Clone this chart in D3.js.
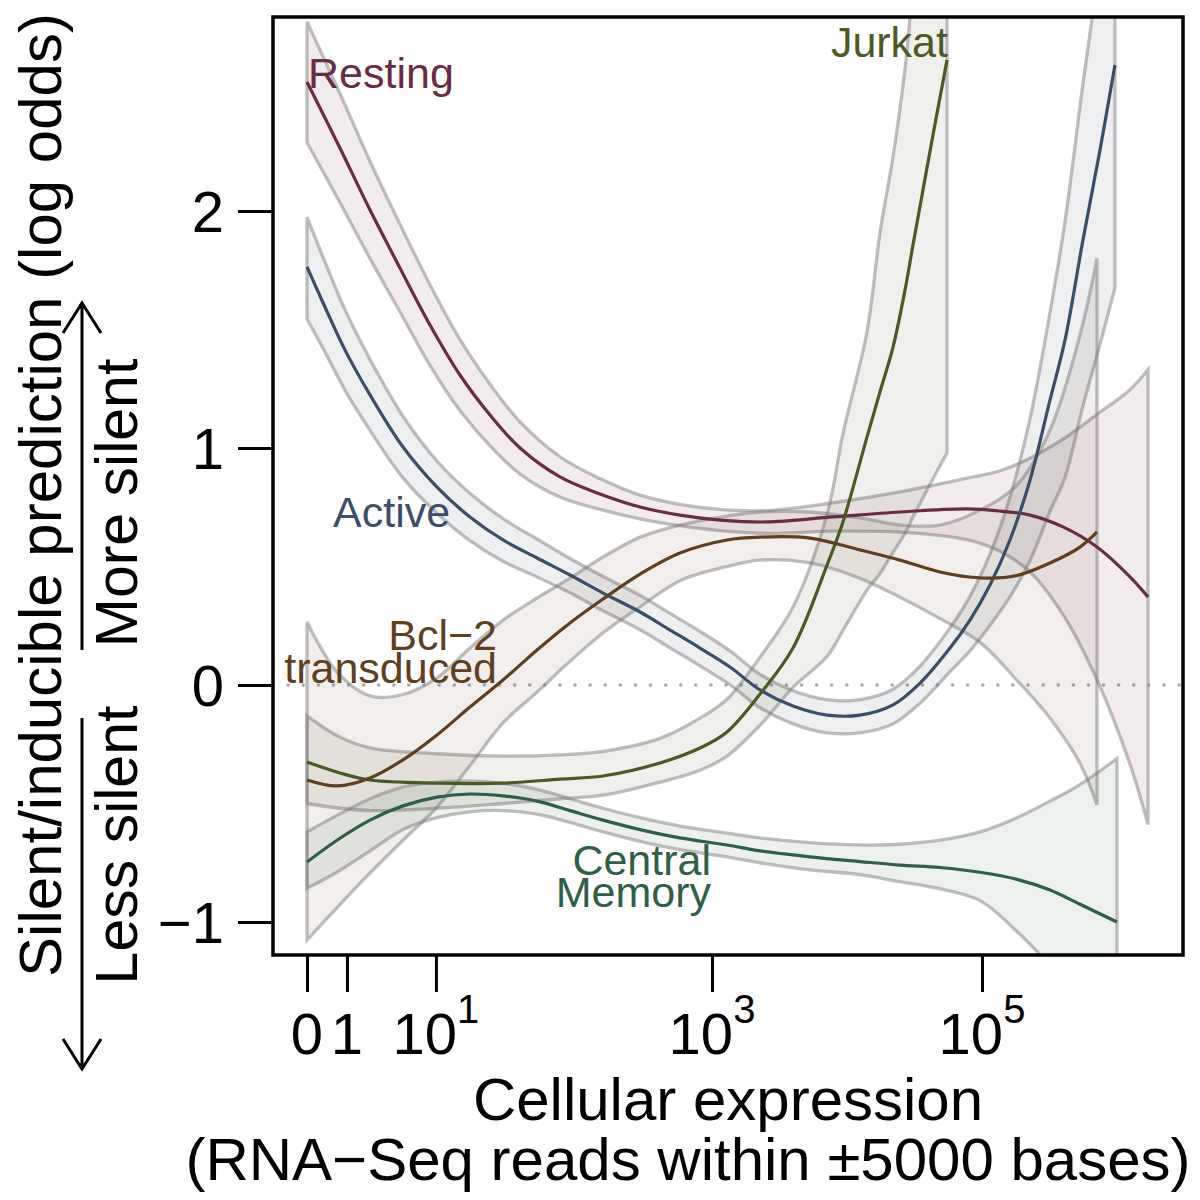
<!DOCTYPE html>
<html>
<head>
<meta charset="utf-8">
<script src="https://cdn.jsdelivr.net/npm/d3@7"></script>
<style>
  html, body { margin: 0; padding: 0; background: #ffffff; }
  svg { display: block; }
  text { font-family: "Liberation Sans", Arial, Helvetica, sans-serif; }
</style>
</head>
<body>
<svg id="chart" width="1200" height="1200"></svg>
<script>
// x values are log10(reads + 1) positions along the expression axis
const restingX = [0,0.244,0.467,0.689,0.911,1.133,1.356,1.578,1.874,2.170,2.467,2.763,3.059,3.407,3.896,4.393,4.889,5.133,5.356,5.6,5.852,6.096,6.23];
const restingMean = [2.544,2.266,2.004,1.759,1.519,1.308,1.139,1.0,0.878,0.806,0.751,0.717,0.696,0.688,0.709,0.730,0.743,0.734,0.717,0.667,0.582,0.456,0.371];
const restingUpper = [2.799,2.496,2.209,1.944,1.689,1.458,1.269,1.11,0.963,0.871,0.801,0.762,0.741,0.736,0.769,0.815,0.873,0.904,0.957,1.037,1.142,1.246,1.331];
const restingLower = [2.289,2.036,1.799,1.574,1.349,1.158,1.009,0.89,0.793,0.741,0.701,0.672,0.651,0.64,0.649,0.645,0.613,0.564,0.477,0.297,0.022,-0.334,-0.589];

const activeX = [0,0.133,0.281,0.467,0.711,0.963,1.207,1.452,1.704,1.948,2.193,2.467,2.689,2.911,3.133,3.356,3.6,3.852,4.096,4.341,4.541,4.763,4.911,5.059,5.207,5.356,5.504,5.615,5.748,5.874,5.985];
const activeMean = [1.764,1.595,1.414,1.224,1.004,0.835,0.709,0.612,0.536,0.464,0.388,0.308,0.232,0.156,0.076,-0.021,-0.089,-0.127,-0.127,-0.084,0.008,0.156,0.274,0.422,0.612,0.865,1.203,1.456,1.878,2.257,2.616];
const activeUpper = [1.974,1.785,1.584,1.374,1.134,0.945,0.809,0.702,0.616,0.534,0.458,0.378,0.302,0.226,0.144,0.045,-0.024,-0.062,-0.062,-0.018,0.080,0.241,0.374,0.552,0.792,1.125,1.573,1.956,2.538,3.057,3.566];
const activeLower = [1.544,1.405,1.244,1.074,0.874,0.725,0.609,0.522,0.456,0.389,0.313,0.233,0.157,0.081,0.001,-0.096,-0.164,-0.202,-0.202,-0.164,-0.077,0.056,0.144,0.252,0.372,0.525,0.733,0.876,1.178,1.437,1.676];

const jurkatX = [0,0.244,0.467,0.963,1.452,1.874,2.193,2.615,2.911,3.111,3.356,3.6,3.852,3.970,4.148,4.244,4.341,4.430,4.489,4.563,4.637,4.741];
const jurkatMean = [-0.325,-0.371,-0.401,-0.414,-0.414,-0.397,-0.384,-0.329,-0.266,-0.198,-0.038,0.156,0.506,0.688,1.046,1.236,1.426,1.667,1.857,2.089,2.321,2.637];
const jurkatUpper = [-0.13,-0.22,-0.265,-0.29,-0.30,-0.295,-0.28,-0.225,-0.14,-0.06,0.118,0.329,0.72,1.06,1.49,1.907,2.23,2.6,2.95,3.3,3.6,4.0];
const jurkatLower = [-0.50,-0.52,-0.53,-0.52,-0.50,-0.48,-0.465,-0.41,-0.36,-0.30,-0.17,-0.01,0.12,0.23,0.40,0.47,0.56,0.64,0.71,0.79,0.87,0.98];

const bcl2X = [0,0.222,0.467,0.711,0.963,1.207,1.452,1.704,1.948,2.193,2.467,2.763,3.111,3.356,3.726,4.096,4.393,4.689,4.985,5.259,5.504,5.726,5.852];
const bcl2Mean = [-0.401,-0.426,-0.392,-0.316,-0.211,-0.093,0.021,0.148,0.262,0.363,0.468,0.557,0.612,0.624,0.620,0.570,0.527,0.477,0.452,0.462,0.515,0.582,0.646];
const bcl2Upper = [0.266,0.055,-0.046,-0.04,0.03,0.156,0.274,0.367,0.451,0.54,0.624,0.675,0.713,0.73,0.73,0.705,0.675,0.675,0.738,0.844,1.076,1.477,1.80];
const bcl2Lower = [-1.076,-0.94,-0.793,-0.655,-0.515,-0.34,-0.16,-0.03,0.10,0.22,0.33,0.44,0.50,0.527,0.515,0.45,0.37,0.28,0.18,0.02,-0.14,-0.33,-0.506];

const cmX = [0,0.222,0.467,0.711,0.963,1.207,1.452,1.704,1.948,2.193,2.467,2.763,3.111,3.356,3.726,4.096,4.393,4.689,4.985,5.259,5.504,5.726,6.0];
const cmMean = [-0.747,-0.655,-0.57,-0.51,-0.473,-0.46,-0.468,-0.49,-0.53,-0.57,-0.61,-0.645,-0.675,-0.70,-0.725,-0.745,-0.76,-0.77,-0.79,-0.82,-0.865,-0.925,-1.0];
const cmUpper = [-0.62,-0.55,-0.48,-0.43,-0.41,-0.405,-0.415,-0.44,-0.48,-0.52,-0.56,-0.595,-0.625,-0.645,-0.665,-0.675,-0.672,-0.655,-0.62,-0.56,-0.49,-0.42,-0.31];
const cmLower = [-0.857,-0.79,-0.70,-0.61,-0.56,-0.535,-0.53,-0.545,-0.58,-0.62,-0.66,-0.695,-0.725,-0.75,-0.78,-0.80,-0.83,-0.86,-0.91,-1.04,-1.19,-1.4,-1.75];

const seriesNames = ["Resting", "Active", "Jurkat", "Bcl-2 transduced", "Central Memory"];
const seriesColors = ["#6a2b44", "#3b4e69", "#4b5a24", "#5f3f1f", "#2f5f46"];

// axis ticks: reads values and their positions on the log10(reads+1) axis
const xTickReads = [0, 1, 10, 1000, 100000];
const xTickPos = [0, 0.296, 0.955, 3, 5];
const xTickBase = ["0", "1", "10", "10", "10"];
const xTickExp = ["", "", "1", "3", "5"];
const yTickValues = [-1, 0, 1, 2];

(function () {
const svg = d3.select("#chart");
const pLeft = 273, pRight = 1183, pTop = 17, pBottom = 955;

const x = d3.scaleLinear().domain([(pLeft - 307) / 135, (pRight - 307) / 135]).range([pLeft, pRight]);
const y = d3.scaleLinear().domain([(685 - pBottom) / 237, (685 - pTop) / 237]).range([pBottom, pTop]);

svg.append("defs").append("clipPath").attr("id", "plotclip")
  .append("rect").attr("x", pLeft).attr("y", pTop).attr("width", pRight - pLeft).attr("height", pBottom - pTop);

const series = [
  {x: restingX, m: restingMean, u: restingUpper, l: restingLower},
  {x: activeX, m: activeMean, u: activeUpper, l: activeLower},
  {x: jurkatX, m: jurkatMean, u: jurkatUpper, l: jurkatLower},
  {x: bcl2X, m: bcl2Mean, u: bcl2Upper, l: bcl2Lower},
  {x: cmX, m: cmMean, u: cmUpper, l: cmLower}
].map((s, i) => ({
  name: seriesNames[i], color: seriesColors[i],
  pts: s.x.map((t, j) => ({t, m: s.m[j], u: s.u[j], l: s.l[j]}))
}));

const plot = svg.append("g").attr("clip-path", "url(#plotclip)");

// zero reference line
plot.append("line")
  .attr("x1", pLeft).attr("x2", pRight).attr("y1", y(0)).attr("y2", y(0))
  .attr("stroke", "#a9a9a9").attr("stroke-width", 3.5)
  .attr("stroke-linecap", "round").attr("stroke-dasharray", "0.1 15");

const curve = d3.curveCatmullRom.alpha(0.5);
const area = d3.area().x(d => x(d.t)).y0(d => y(d.l)).y1(d => y(d.u)).curve(curve);
const line = d3.line().x(d => x(d.t)).y(d => y(d.m)).curve(curve);

plot.selectAll("path.band").data(series).join("path")
  .attr("class", "band")
  .attr("d", d => area(d.pts) + "Z")
  .attr("fill", d => d.color).attr("fill-opacity", 0.09)
  .attr("stroke", "#7a7a7a").attr("stroke-opacity", 0.48).attr("stroke-width", 3.3)
  .attr("stroke-linejoin", "miter");

plot.selectAll("path.mean").data(series).join("path")
  .attr("class", "mean")
  .attr("d", d => line(d.pts))
  .attr("fill", "none").attr("stroke", d => d.color).attr("stroke-width", 3.2);

// axes
const xAxis = d3.axisBottom(x).tickValues(xTickPos).tickSize(37).tickFormat("");
const gx = svg.append("g").attr("transform", `translate(0,${pBottom})`).call(xAxis);
gx.select(".domain").remove();
gx.selectAll(".tick line").attr("stroke", "#000").attr("stroke-width", 3);

const xLab = svg.append("g");
xTickPos.forEach((p, i) => {
  const t = xLab.append("text").attr("x", x(p)).attr("y", 1054)
    .attr("text-anchor", "middle").attr("font-size", 58).attr("fill", "#000");
  t.append("tspan").text(xTickBase[i]);
  if (xTickExp[i]) t.append("tspan").attr("font-size", 40).attr("dy", -31).text(xTickExp[i]);
});

const yAxis = d3.axisLeft(y).tickValues(yTickValues).tickSize(35).tickPadding(14)
  .tickFormat(d => d < 0 ? "\u2212" + Math.abs(d) : String(d));
const gy = svg.append("g").attr("transform", `translate(${pLeft},0)`).call(yAxis);
gy.select(".domain").remove();
gy.selectAll(".tick line").attr("stroke", "#000").attr("stroke-width", 3);
gy.selectAll(".tick text").attr("font-size", 58).attr("fill", "#000")
  .attr("font-family", "'Liberation Sans', Arial, sans-serif").attr("dy", "0.36em");

// frame
svg.append("rect").attr("x", pLeft).attr("y", pTop).attr("width", pRight - pLeft).attr("height", pBottom - pTop)
  .attr("fill", "none").attr("stroke", "#000").attr("stroke-width", 3.5);

// axis titles
svg.append("text").attr("x", 728).attr("y", 1120).attr("text-anchor", "middle")
  .attr("font-size", 60).text("Cellular expression");
svg.append("text").attr("x", 688).attr("y", 1180).attr("text-anchor", "middle")
  .attr("font-size", 60).text("(RNA\u2212Seq reads within \u00b15000 bases)");
svg.append("text").attr("transform", "translate(61,495) rotate(-90)").attr("text-anchor", "middle")
  .attr("font-size", 60).text("Silent/inducible prediction (log odds)");
svg.append("text").attr("transform", "translate(137,503) rotate(-90)").attr("text-anchor", "middle")
  .attr("font-size", 59).text("More silent");
svg.append("text").attr("transform", "translate(137,845) rotate(-90)").attr("text-anchor", "middle")
  .attr("font-size", 59).text("Less silent");

// arrows
const arrows = svg.append("g").attr("stroke", "#000").attr("stroke-width", 3).attr("fill", "none");
arrows.append("path").attr("d", "M82,650 L82,303 M63,333 L82,303 L101,333");
arrows.append("path").attr("d", "M82,718 L82,1069 M63,1039 L82,1069 L101,1039");

// series labels
const lab = svg.append("g").attr("font-size", 43);
lab.append("text").attr("x", 308).attr("y", 88).attr("fill", seriesColors[0]).text("Resting");
lab.append("text").attr("x", 948).attr("y", 57).attr("text-anchor", "end").attr("fill", seriesColors[2]).text("Jurkat");
lab.append("text").attr("x", 333).attr("y", 527).attr("fill", seriesColors[1]).text("Active");
lab.append("text").attr("x", 497).attr("y", 650).attr("text-anchor", "end").attr("fill", seriesColors[3]).text("Bcl\u22122");
lab.append("text").attr("x", 497).attr("y", 683).attr("text-anchor", "end").attr("fill", seriesColors[3]).text("transduced");
lab.append("text").attr("x", 711).attr("y", 875).attr("text-anchor", "end").attr("fill", seriesColors[4]).text("Central");
lab.append("text").attr("x", 711).attr("y", 907).attr("text-anchor", "end").attr("fill", seriesColors[4]).text("Memory");
})();
</script>
</body>
</html>
